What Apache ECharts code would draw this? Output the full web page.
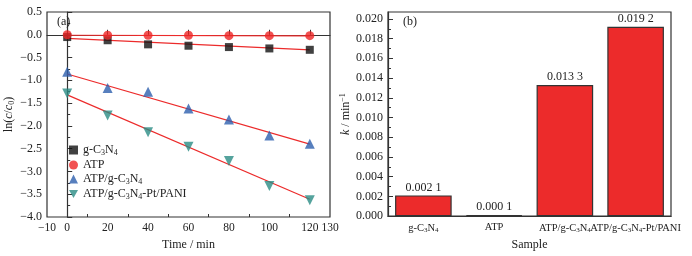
<!DOCTYPE html>
<html>
<head>
<meta charset="utf-8">
<script src="https://cdn.jsdelivr.net/npm/echarts@6/dist/echarts.min.js"></script>
<style>
  html, body { margin: 0; padding: 0; background: #fff; }
  #main { width: 692px; height: 256px; }
</style>
</head>
<body>
<div id="main"></div>
<script>
// (a) kinetics data, ln(c/c0) vs time
const times = [0, 20, 40, 60, 80, 100, 120];
const gC3N4 = [-0.05, -0.12, -0.21, -0.24, -0.27, -0.30, -0.33];
const atp = [0, -0.01, -0.01, -0.01, -0.02, -0.02, -0.02];
const atpG = [-0.81, -1.17, -1.25, -1.62, -1.86, -2.21, -2.39];
const atpGPt = [-1.29, -1.77, -2.14, -2.46, -2.77, -3.32, -3.63];
// fitted lines, start (t=0) and end (t=120) values
const fitTimes = [0, 120];
const fitG = [-0.08, -0.33];
const fitAtp = [-0.01, -0.025];
const fitAtpG = [-0.86, -2.40];
const fitAtpGPt = [-1.32, -3.61];

// (b) rate constants
const samples = ['g-C3N4', 'ATP', 'ATP/g-C3N4', 'ATP/g-C3N4-Pt/PANI'];
const kValues = [0.0021, 0.0001, 0.0133, 0.0192];

const xLabelsA = [-10, 0, 20, 40, 60, 80, 100, 120, 130];
const xTicksA = [0, 20, 40, 60, 80, 100, 120];
const xMinorA = [10, 30, 50, 70, 90, 110];
const yTicksB = [0, 0.002, 0.004, 0.006, 0.008, 0.010, 0.012, 0.014, 0.016, 0.018, 0.020];
const yMinorB = [0.001, 0.003, 0.005, 0.007, 0.009, 0.011, 0.013, 0.015, 0.017, 0.019];

const FONT = '"Liberation Serif", "DejaVu Serif", serif';
const TXT = '#222';
const RED = '#ec2b2b';

const rich = {
  sub: { fontFamily: FONT, fontSize: 8, color: TXT, padding: [6, 0, 0, 0] },
  sup: { fontFamily: FONT, fontSize: 8, color: TXT, padding: [0, 0, 6, 0] },
  i: { fontFamily: FONT, fontSize: 12, color: TXT, fontStyle: 'italic' }
};
const richSmall = {
  sub: { fontFamily: FONT, fontSize: 7, color: TXT, padding: [5, 0, 0, 0] }
};
function chem(name) {
  return name.replace(/([CN])(\d)/g, '$1{sub|$2}');
}
function minus(v, d) {
  return v.toFixed(d).replace('-', '−');
}
function pairs(xs, ys) {
  return xs.map((x, i) => [x, ys[i]]);
}

const chart = echarts.init(document.getElementById('main'), null, { renderer: 'canvas' });

const axisLine = { show: true, lineStyle: { color: '#333', width: 1.2 } };
const lbl = { fontFamily: FONT, fontSize: 12, color: TXT };

const scatter = (name, data, symbol, color, size, rotate) => ({
  name, type: 'scatter', xAxisIndex: 0, yAxisIndex: 0,
  data: pairs(times, data), symbol, symbolSize: size, symbolRotate: rotate || 0,
  itemStyle: { color }, z: 3
});
const fit = (data) => ({
  type: 'line', xAxisIndex: 0, yAxisIndex: 0, data: pairs(fitTimes, data),
  showSymbol: false, symbol: 'none', lineStyle: { color: RED, width: 1.2 }, z: 2, silent: true
});

chart.setOption({
  animation: false,
  backgroundColor: '#fff',
  title: [
    { text: '(a)', left: 52, top: 11, textStyle: { fontFamily: FONT, fontSize: 12, fontWeight: 'normal', color: TXT } },
    { text: '(b)', left: 398, top: 11, textStyle: { fontFamily: FONT, fontSize: 12, fontWeight: 'normal', color: TXT } }
  ],
  legend: {
    orient: 'vertical', left: 64, top: 139, itemGap: 2, itemWidth: 9, itemHeight: 9,
    textStyle: { fontFamily: FONT, fontSize: 12, color: TXT, rich },
    formatter: chem,
    data: [
      { name: 'g-C3N4', icon: 'rect' },
      { name: 'ATP', icon: 'circle' },
      { name: 'ATP/g-C3N4', icon: 'triangle' },
      { name: 'ATP/g-C3N4-Pt/PANI', icon: 'path://M0,0L10,0L5,9Z' }
    ]
  },
  grid: [
    { left: 47, right: 362, top: 12, bottom: 37, show: true, borderColor: '#333', borderWidth: 1.2 },
    { left: 388, right: 21, top: 12, bottom: 37, show: true, borderColor: '#333', borderWidth: 1.2 }
  ],
  xAxis: [
    {
      gridIndex: 0, type: 'value', min: -10, max: 130,
      name: 'Time / min', nameLocation: 'middle', nameGap: 22,
      nameTextStyle: { fontFamily: FONT, fontSize: 12, color: TXT },
      axisLine, splitLine: { show: false },
      axisTick: { show: true, inside: true, length: 5, customValues: xTicksA, lineStyle: { color: '#333' } },
      axisLabel: { ...lbl, fontSize: 11.5, customValues: xLabelsA, margin: 5, formatter: v => minus(v, 0) }
    },
    {
      gridIndex: 0, type: 'value', min: -10, max: 130, position: 'bottom',
      axisLine: { show: false }, splitLine: { show: false }, axisLabel: { show: false },
      axisTick: { show: true, inside: true, length: 3, customValues: xMinorA, lineStyle: { color: '#333' } }
    },
    {
      gridIndex: 1, type: 'category', data: samples,
      name: 'Sample', nameLocation: 'middle', nameGap: 22,
      nameTextStyle: { fontFamily: FONT, fontSize: 12, color: TXT },
      axisLine, axisTick: { show: false },
      axisLabel: { ...lbl, fontSize: 10.5, margin: 6, rich: richSmall, formatter: chem, interval: 0 }
    }
  ],
  yAxis: [
    {
      gridIndex: 0, type: 'value', min: -4, max: 0.5, interval: 0.5,
      name: 'ln({i|c}/{i|c}{sub|0})', nameLocation: 'middle', nameGap: 28, nameRotate: 90,
      nameTextStyle: { fontFamily: FONT, fontSize: 12, color: TXT, rich },
      axisLine, splitLine: { show: false },
      axisTick: { show: true, inside: true, length: 5, lineStyle: { color: '#333' } },
      minorTick: { show: true, splitNumber: 2, length: 3, lineStyle: { color: '#333' } },
      axisLabel: { ...lbl, margin: 5, formatter: v => minus(v, 1) }
    },
    {
      gridIndex: 1, type: 'value', min: 0, max: 0.0207,
      name: '{i|k} / min{sup|−1}', nameLocation: 'middle', nameGap: 35, nameRotate: 90,
      nameTextStyle: { fontFamily: FONT, fontSize: 12, color: TXT, rich },
      axisLine, splitLine: { show: false },
      axisTick: { show: true, inside: true, length: 5, customValues: yTicksB, lineStyle: { color: '#333' } },
      axisLabel: { ...lbl, margin: 5, customValues: yTicksB, formatter: v => v.toFixed(3) }
    },
    {
      gridIndex: 1, type: 'value', min: 0, max: 0.0207, position: 'left',
      axisLine: { show: false }, splitLine: { show: false }, axisLabel: { show: false },
      axisTick: { show: true, inside: true, length: 3, customValues: yMinorB, lineStyle: { color: '#333' } }
    }
  ],
  series: [
    fit(fitG), fit(fitAtp), fit(fitAtpG), fit(fitAtpGPt),
    scatter('g-C3N4', gC3N4, 'rect', '#111', 8),
    scatter('ATP', atp, 'circle', '#ee2626', 9),
    scatter('ATP/g-C3N4', atpG, 'triangle', '#2d5fae', 10),
    scatter('ATP/g-C3N4-Pt/PANI', atpGPt, 'triangle', '#2b8c84', 10, 180),
    {
      type: 'bar', xAxisIndex: 2, yAxisIndex: 1, data: kValues, barWidth: '80%',
      itemStyle: { color: RED, borderColor: '#333', borderWidth: 1.2 },
      label: {
        show: true, position: 'top', distance: 2, fontFamily: FONT, fontSize: 12, color: TXT,
        formatter: p => { const s = p.value.toFixed(4); return s.slice(0, 5) + ' ' + s.slice(5); }
      }
    }
  ]
});
</script>
</body>
</html>
